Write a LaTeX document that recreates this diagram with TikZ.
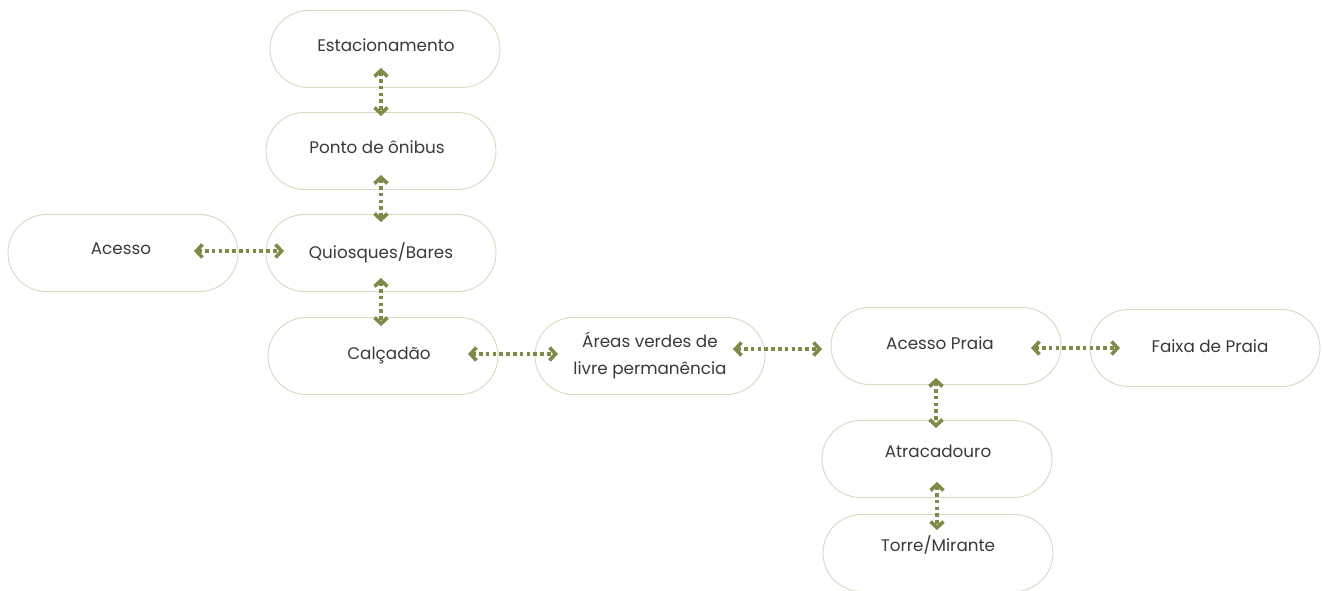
\documentclass[tikz,border=0pt]{standalone}
\usepackage{fontspec}
\setmainfont{Poppins}
\usetikzlibrary{arrows.meta,calc}
\definecolor{olive}{RGB}{125,138,72}
\definecolor{boxline}{RGB}{214,218,190}
\definecolor{txtc}{RGB}{58,58,58}
\tikzset{
  box/.style={draw=boxline, line width=0.9pt, fill=white, rounded corners=38.5pt,
    minimum width=230pt, minimum height=77pt, inner sep=0pt},
  txt/.style={text=txtc, font=\fontsize{16.8}{27}\selectfont, align=center, inner sep=0pt},
  conn/.style={draw=olive, line width=3.8pt, dash pattern=on 3.6pt off 3.2pt,
    {Straight Barb[length=6pt,width=13pt,line width=3.6pt]}-{Straight Barb[length=6pt,width=13pt,line width=3.6pt]}}
}
\begin{document}
\begin{tikzpicture}[x=1pt,y=-1pt]
\useasboundingbox (0,0) rectangle (1323,590);
% boxes
\node[box] (estac) at (385,49) {};
\node[box] (ponto) at (381,151) {};
\node[box] (quio) at (381,253) {};
\node[box] (acesso) at (123,253) {};
\node[box] (calc) at (383,356) {};
\node[box] (areas) at (650,356) {};
\node[box] (apraia) at (946,346) {};
\node[box] (faixa) at (1205,348) {};
\node[box] (atrac) at (937,459) {};
\node[box] (torre) at (938,553) {};
% texts
\node[txt] (testac) at (386,45) {Estacionamento};
\node[txt] (tponto) at (377,147) {Ponto de ônibus};
\node[txt] (tquio) at (381,253) {Quiosques/Bares};
\node[txt] (tacesso) at (121,249) {Acesso};
\node[txt] (tcalc) at (389,355) {Calçadão};
\node[txt] (tareas) at (650,355) {Áreas verdes de\\livre permanência};
\node[txt] (tapraia) at (940,343) {Acesso Praia};
\node[txt] (tfaixa) at (1210,346) {Faixa de Praia};
\node[txt] (tatrac) at (938,451) {Atracadouro};
\node[txt] (ttorre) at (938,545) {Torre/Mirante};
% connectors
\draw[conn] ($(estac.center)+(-4,19)$) -- ($(ponto.center)+(0,-35)$);
\draw[conn] ($(ponto.center)+(0,24)$) -- ($(quio.center)+(0,-31)$);
\draw[conn] ($(quio.center)+(0,25)$) -- ($(calc.center)+(-2,-30)$);
\draw[conn] ($(acesso.center)+(71,-2)$) -- ($(quio.center)+(-97,-2)$);
\draw[conn] ($(calc.center)+(85,-2)$) -- ($(areas.center)+(-92,-2)$);
\draw[conn] ($(areas.center)+(83,-7)$) -- ($(apraia.center)+(-124,3)$);
\draw[conn] ($(apraia.center)+(85,2)$) -- ($(faixa.center)+(-85,0)$);
\draw[conn] ($(apraia.center)+(-10,32)$) -- ($(atrac.center)+(-1,-31)$);
\draw[conn] ($(atrac.center)+(0,23)$) -- ($(torre.center)+(-1,-23)$);
\end{tikzpicture}
\end{document}
